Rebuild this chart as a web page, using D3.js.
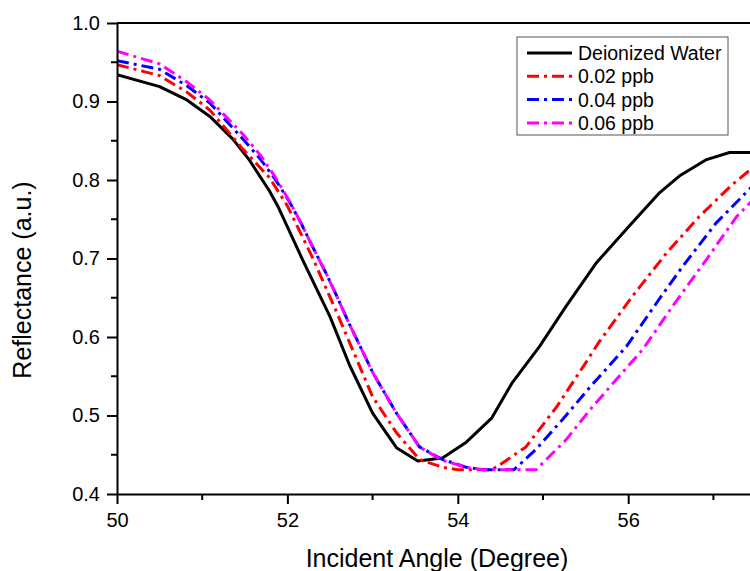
<!DOCTYPE html>
<html>
<head>
<meta charset="utf-8">
<script src="https://cdn.jsdelivr.net/npm/d3@7"></script>
<style>
  body { margin: 0; background: #fff; }
  svg { display: block; font-family: "Liberation Sans", Arial, sans-serif; }
</style>
</head>
<body>
<svg id="chart" width="750" height="571"></svg>
<script>
// values
const waterAngle = [50, 50.5, 50.82, 51.09, 51.36, 51.55, 51.79, 51.9, 52.18, 52.5, 52.73, 53.0, 53.28, 53.53, 53.82, 54.1, 54.4, 54.64, 54.96, 55.27, 55.63, 56.01, 56.37, 56.6, 56.92, 57.19, 57.6];
const waterR = [0.934, 0.919, 0.902, 0.881, 0.852, 0.826, 0.786, 0.764, 0.698, 0.626, 0.564, 0.503, 0.459, 0.442, 0.446, 0.466, 0.497, 0.542, 0.588, 0.639, 0.695, 0.741, 0.784, 0.805, 0.826, 0.835, 0.835];

const ppb02Angle = [50, 50.5, 50.82, 51.09, 51.48, 51.79, 52.0, 52.3, 52.58, 53.0, 53.28, 53.55, 53.82, 54.0, 54.4, 54.49, 54.8, 55.16, 55.47, 55.66, 56.05, 56.45, 56.83, 57.22, 57.6];
const ppb02R = [0.947, 0.933, 0.912, 0.889, 0.839, 0.803, 0.767, 0.700, 0.631, 0.524, 0.478, 0.444, 0.434, 0.431, 0.431, 0.437, 0.46, 0.511, 0.562, 0.594, 0.652, 0.707, 0.753, 0.794, 0.828];

const ppb04Angle = [50, 50.5, 50.82, 51.09, 51.48, 51.68, 51.85, 52.02, 52.16, 52.3, 52.45, 52.58, 52.72, 52.85, 53.0, 53.28, 53.55, 53.82, 54.1, 54.3, 54.66, 54.92, 55.23, 55.55, 55.98, 56.33, 56.64, 57.03, 57.42, 57.6];
const ppb04R = [0.952, 0.941, 0.92, 0.898, 0.852, 0.827, 0.802, 0.773, 0.745, 0.714, 0.682, 0.652, 0.618, 0.589, 0.555, 0.503, 0.46, 0.444, 0.434, 0.431, 0.431, 0.457, 0.495, 0.536, 0.588, 0.643, 0.69, 0.745, 0.788, 0.808];

const ppb06Angle = [50, 50.5, 50.82, 51.09, 51.48, 51.68, 51.85, 52.02, 52.16, 52.3, 52.45, 52.58, 52.72, 52.85, 53.0, 53.28, 53.55, 53.82, 54.1, 54.3, 54.92, 55.27, 55.58, 56.17, 56.52, 56.92, 57.27, 57.6];
const ppb06R = [0.964, 0.948, 0.925, 0.902, 0.858, 0.832, 0.805, 0.774, 0.745, 0.714, 0.682, 0.652, 0.618, 0.589, 0.555, 0.503, 0.46, 0.443, 0.434, 0.431, 0.431, 0.469, 0.511, 0.584, 0.639, 0.699, 0.753, 0.79];

const seriesNames = ['Deionized Water', '0.02 ppb', '0.04 ppb', '0.06 ppb'];
const seriesColors = ['#000000', '#ff0000', '#0000ff', '#ff00ff'];

const xTicks = [50, 52, 54, 56];
const yTicks = [0.4, 0.5, 0.6, 0.7, 0.8, 0.9, 1.0];
const xMinor = [51, 53, 55, 57];
const yMinor = [0.45, 0.55, 0.65, 0.75, 0.85, 0.95];

const series = [
    { name: seriesNames[0], color: seriesColors[0], dashed: false, xs: waterAngle, ys: waterR },
    { name: seriesNames[1], color: seriesColors[1], dashed: true, xs: ppb02Angle, ys: ppb02R },
    { name: seriesNames[2], color: seriesColors[2], dashed: true, xs: ppb04Angle, ys: ppb04R },
    { name: seriesNames[3], color: seriesColors[3], dashed: true, xs: ppb06Angle, ys: ppb06R }
];

const svg = d3.select('#chart');
const m = { left: 117, top: 23, bottom: 494, right: 756 };

const x = d3.scaleLinear().domain([50, 57.5]).range([m.left, m.right]);
const y = d3.scaleLinear().domain([0.4, 1.0]).range([m.bottom, m.top]);

// clip so lines stay inside the frame
svg.append('clipPath').attr('id', 'plotclip')
    .append('rect')
    .attr('x', m.left).attr('y', m.top)
    .attr('width', m.right - m.left).attr('height', m.bottom - m.top);

const line = d3.line().x(d => x(d[0])).y(d => y(d[1]));

const plot = svg.append('g').attr('clip-path', 'url(#plotclip)');
series.forEach(s => {
    const pts = s.xs.map((a, i) => [a, s.ys[i]]);
    plot.append('path')
        .datum(pts)
        .attr('d', line)
        .attr('fill', 'none')
        .attr('stroke', s.color)
        .attr('stroke-width', 3)
        .attr('stroke-linejoin', 'round')
        .attr('stroke-dasharray', s.dashed ? '12 5 3 5' : null);
});

const xAxis = d3.axisBottom(x).tickValues(xTicks).tickFormat(d3.format('d'))
    .tickSizeInner(10).tickSizeOuter(0).tickPadding(9);
const yAxis = d3.axisLeft(y).tickValues(yTicks).tickFormat(d3.format('.1f'))
    .tickSizeInner(10).tickSizeOuter(0).tickPadding(7);

const gx = svg.append('g').attr('transform', `translate(0,${m.bottom})`).call(xAxis);
const gy = svg.append('g').attr('transform', `translate(${m.left},0)`).call(yAxis);

// minor ticks
svg.append('g').selectAll('line')
    .data(xMinor)
    .join('line')
    .attr('x1', d => x(d)).attr('x2', d => x(d))
    .attr('y1', m.bottom).attr('y2', m.bottom + 6)
    .attr('stroke', '#000').attr('stroke-width', 2);

svg.append('g').selectAll('line')
    .data(yMinor)
    .join('line')
    .attr('x1', m.left - 6).attr('x2', m.left)
    .attr('y1', d => y(d)).attr('y2', d => y(d))
    .attr('stroke', '#000').attr('stroke-width', 2);

[gx, gy].forEach(g => {
    g.select('.domain').attr('stroke-width', 2);
    g.selectAll('.tick line').attr('stroke-width', 2);
    g.selectAll('.tick text')
        .attr('font-size', 20)
        .attr('fill', '#000')
        .attr('font-family', '"Liberation Sans", Arial, sans-serif');
});

// top frame line
svg.append('line')
    .attr('x1', m.left).attr('x2', m.right)
    .attr('y1', m.top).attr('y2', m.top)
    .attr('stroke', '#000').attr('stroke-width', 2);

// axis titles
svg.append('text')
    .attr('x', 437).attr('y', 567)
    .attr('text-anchor', 'middle')
    .attr('font-size', 25)
    .text('Incident Angle (Degree)');

svg.append('text')
    .attr('transform', 'translate(31,280) rotate(-90)')
    .attr('text-anchor', 'middle')
    .attr('font-size', 25)
    .text('Reflectance (a.u.)');

// legend
const legend = svg.append('g');
legend.append('rect')
    .attr('x', 517).attr('y', 37)
    .attr('width', 211).attr('height', 98)
    .attr('fill', '#fff')
    .attr('stroke', '#555').attr('stroke-width', 1);

series.forEach((s, i) => {
    const ly = 53 + i * 23.3;
    legend.append('line')
        .attr('x1', 527).attr('x2', 572)
        .attr('y1', ly).attr('y2', ly)
        .attr('stroke', s.color)
        .attr('stroke-width', 3)
        .attr('stroke-dasharray', s.dashed ? '12 5 3 5' : null);
    legend.append('text')
        .attr('x', 578).attr('y', ly + 7)
        .attr('font-size', 19.5)
        .text(s.name);
});
</script>
</body>
</html>
